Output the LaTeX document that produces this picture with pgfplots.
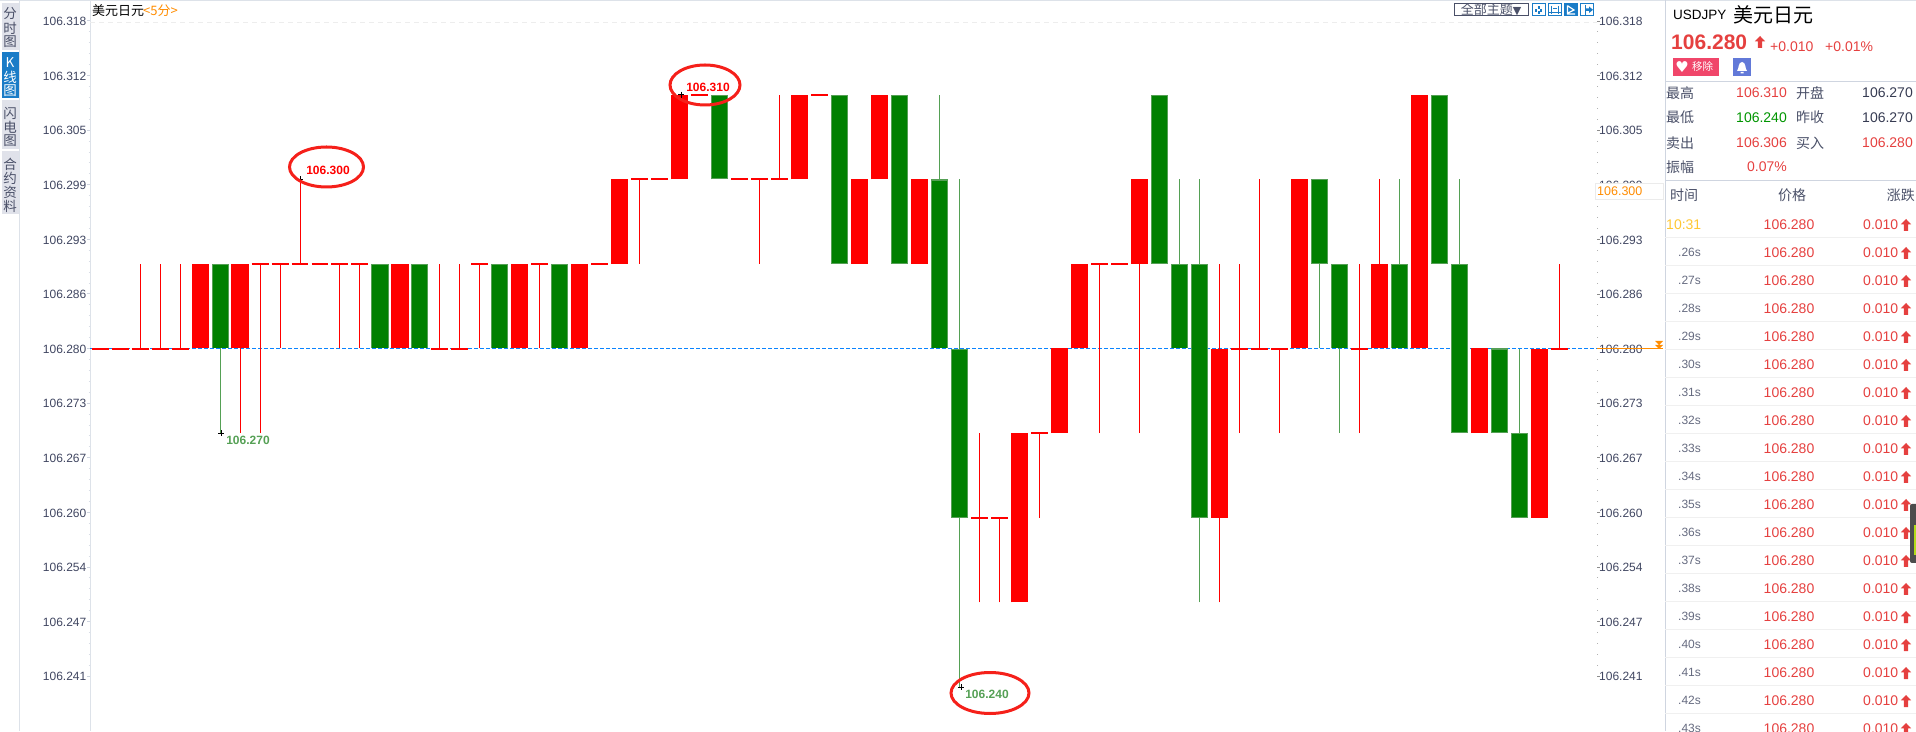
\documentclass[border=0pt]{standalone}
\usepackage{fontspec}
\usepackage{pgfplots}
\usepackage{pgfplotstable}
\pgfplotsset{compat=1.18}
\setmainfont{Liberation Sans}
\newfontfamily\cjk{Noto Sans CJK SC}
\newfontfamily\sym{DejaVu Sans}
\newcommand{\fs}[1]{\fontsize{#1}{#1}\selectfont}
\definecolor{kred}{HTML}{FF0000}
\definecolor{kgreen}{HTML}{008000}
\definecolor{kedge}{HTML}{55A055}
\definecolor{tickc}{HTML}{3F4560}
\definecolor{pred}{HTML}{E5403F}
\definecolor{lbl}{HTML}{4A5068}
\definecolor{ora}{HTML}{FF8C00}
\definecolor{sep}{HTML}{CFD5E0}
\definecolor{tabbg}{HTML}{E0E2EA}
\definecolor{kblue}{HTML}{1A7CC7}
\definecolor{dotblue}{HTML}{0A84FF}
\definecolor{ring}{HTML}{F5201A}
% candles: k = candle number, prices
\pgfplotstableread{
k lo hi
5 106.28 106.29
7 106.28 106.29
15 106.28 106.29
21 106.28 106.29
24 106.28 106.29
26 106.29 106.30
29 106.30 106.31
35 106.30 106.31
38 106.29 106.30
39 106.30 106.31
41 106.29 106.30
46 106.25 106.27
48 106.27 106.28
49 106.28 106.29
52 106.29 106.30
56 106.26 106.28
60 106.28 106.30
64 106.28 106.29
66 106.28 106.31
69 106.27 106.28
72 106.26 106.28
}\redbody
\pgfplotstableread{
k lo hi
6 106.28 106.29
14 106.28 106.29
16 106.28 106.29
20 106.28 106.29
23 106.28 106.29
31 106.30 106.31
37 106.29 106.31
40 106.29 106.31
42 106.28 106.30
43 106.26 106.28
53 106.29 106.31
54 106.28 106.29
55 106.26 106.29
61 106.29 106.30
62 106.28 106.29
65 106.28 106.29
67 106.29 106.31
68 106.27 106.29
70 106.27 106.28
71 106.26 106.27
}\greenbody
\pgfplotstableread{
k p
0 106.2799
1 106.2799
2 106.2799
3 106.2799
4 106.2799
8 106.29
9 106.29
10 106.29
11 106.29
12 106.29
13 106.29
17 106.2799
18 106.2799
19 106.29
22 106.29
25 106.29
27 106.30
28 106.30
30 106.31
32 106.30
33 106.30
34 106.30
36 106.31
44 106.26
45 106.26
47 106.27
50 106.29
51 106.29
57 106.2799
58 106.2799
59 106.2799
63 106.2799
73 106.2799
}\doji
\pgfplotstableread{
k lo hi
2 106.28 106.29
3 106.28 106.29
4 106.28 106.29
7 106.27 106.29
8 106.27 106.29
9 106.28 106.29
10 106.29 106.30
12 106.28 106.29
13 106.28 106.29
17 106.28 106.29
18 106.28 106.29
19 106.28 106.29
22 106.28 106.29
27 106.29 106.30
33 106.29 106.30
34 106.30 106.31
44 106.25 106.27
45 106.25 106.26
47 106.26 106.27
50 106.27 106.29
52 106.27 106.30
56 106.25 106.29
57 106.27 106.29
58 106.28 106.30
59 106.27 106.28
63 106.27 106.29
64 106.28 106.30
73 106.28 106.29
}\redwick
\pgfplotstableread{
k lo hi
6 106.27 106.29
42 106.28 106.31
43 106.24 106.30
54 106.28 106.30
55 106.25 106.30
61 106.28 106.30
62 106.27 106.29
65 106.28 106.30
68 106.27 106.30
71 106.26 106.28
}\greenwick
\begin{document}
\begin{tikzpicture}
\path[use as bounding box,clip] (0,0) rectangle (1916pt,731pt);
\begin{axis}[
  at={(90pt,0pt)},anchor=south west,scale only axis,width=1507pt,height=731pt,
  xmin=-0.5,xmax=74.85,ymin=106.234787,ymax=106.321194,
  axis x line=none,axis y line*=left,
  axis line style={draw=sep!70!white,line width=1pt},
  ytick={106.241276,106.24773,106.254184,106.260638,106.267092,106.273546,106.28,106.286454,106.292908,106.299362,106.305816,106.31227,106.318724},
  yticklabels={106.241,106.247,106.254,106.260,106.267,106.273,106.280,106.286,106.293,106.299,106.305,106.312,106.318},
  minor tick num=4,tick align=outside,major tick length=3pt,minor tick length=1.5pt,
  every major tick/.style={draw=sep,line width=0.8pt},
  every minor tick/.style={draw=sep!80!white,line width=0.8pt},
  yticklabel style={font=\fs{12},text=tickc,inner sep=0pt,xshift=-0.5pt,yshift=-0.7pt},
]
\addplot[draw=black!7,line width=1pt,dash pattern=on 5pt off 4pt] coordinates {(-0.5,106.31853)(74.85,106.31853)};
\addplot[dotblue,line width=1.1pt,dash pattern=on 4pt off 2pt] coordinates {(-0.5,106.28)(74.85,106.28)};
\addplot[kred,line width=1pt,no markers,quiver={u=0,v=\thisrow{hi}-\thisrow{lo}}] table[x=k,y=lo] {\redwick};
\addplot[kedge,line width=1pt,no markers,quiver={u=0,v=\thisrow{hi}-\thisrow{lo}}] table[x=k,y=lo] {\greenwick};
\addplot[kred,line width=17pt,no markers,quiver={u=0,v=\thisrow{hi}-\thisrow{lo}}] table[x=k,y=lo] {\redbody};
\addplot[kedge,line width=17pt,no markers,quiver={u=0,v=\thisrow{hi}-\thisrow{lo}}] table[x=k,y=lo] {\greenbody};
\addplot[kgreen,line width=15pt,no markers,quiver={u=0,v=\thisrow{hi}-\thisrow{lo}-0.00024}] table[x=k,y expr=\thisrow{lo}+0.00012] {\greenbody};
\addplot[kred,line width=2pt,no markers,quiver={u=0.85,v=0}] table[x expr=\thisrow{k}-0.425,y=p] {\doji};
\addplot[only marks,mark=+,mark size=3pt,black,mark options={line width=0.7pt}] coordinates {(10,106.30)(29.05,106.31)(6.05,106.27)(43.05,106.24)};
\end{axis}
\begin{axis}[
  at={(90pt,0pt)},anchor=south west,scale only axis,width=1507pt,height=731pt,
  xmin=-0.5,xmax=74.85,ymin=106.234787,ymax=106.321194,
  axis x line=none,axis y line*=right,
  axis line style={draw=none},
  ytick={106.241276,106.24773,106.254184,106.260638,106.267092,106.273546,106.28,106.286454,106.292908,106.299362,106.305816,106.31227,106.318724},
  yticklabels={106.241,106.247,106.254,106.260,106.267,106.273,106.280,106.286,106.293,106.299,106.305,106.312,106.318},
  minor tick num=4,tick align=outside,major tick length=3pt,minor tick length=1pt,
  every major tick/.style={draw=black!45,line width=0.7pt},
  every minor tick/.style={draw=black!30,line width=0.8pt},
  yticklabel style={font=\fs{12},text=tickc,inner sep=0pt,xshift=-1pt,yshift=-0.7pt},
]
\addplot[draw=none] coordinates {(0,106.28)};
\end{axis}
\begin{scope}[x=1pt,y=-1pt,shift={(0pt,731pt)}]
% frame lines
\draw[sep!70!white,line width=1.5pt] (0,0.5) -- (1916,0.5);
\draw[sep!70!white,line width=1pt] (19.5,0) -- (19.5,731);
\draw[sep,line width=1pt] (1665,0) -- (1665,731);
% title
\node[anchor=west,inner sep=0,font=\cjk\fs{13}] at (92,11) {美元日元};
\node[anchor=west,inner sep=0,text=ora,font=\cjk\fs{13}] at (143,11) {<5分>};
% left tabs
\fill[tabbg] (2,3) rectangle (19,50);
\fill[kblue] (2,52) rectangle (19,98);
\fill[tabbg] (2,100) rectangle (19,149);
\fill[tabbg] (2,151) rectangle (19,214);
\foreach \y/\c in {14/分,28/时,42/图,113/闪,127/电,141/图,164/合,178/约,192/资,206/料}
  \node[inner sep=0,text=lbl,font=\cjk\fs{13.5}] at (10,\y) {\c};
\foreach \y/\c in {63/K,77/线,91/图}
  \node[inner sep=0,text=white,font=\cjk\fs{13.5}] at (10,\y) {\c};
% toolbar
\draw[draw=lbl,line width=1pt,fill=white] (1454.5,3.5) rectangle (1528.5,16);
\node[inner sep=0,text=lbl,font=\cjk\fs{13}] at (1491,10) {全部主题{\sym\fs{11}▼}};
\foreach \a in {1532.5,1548.5,1580.5}
  \draw[kblue,line width=1pt] (\a,3.5) rectangle ++(13,12.5);
\fill[kblue] (1564,3) rectangle (1577.5,16.5);
\foreach \dx/\dy in {6.5/3,6.5/8,3/6,8/6}
  \fill[kblue] (1532.5+\dx-1,3.5+\dy-1+1) rectangle ++(2.2,2.2);
\draw[kblue,line width=1pt] (1551.5,6) -- (1551.5,14) (1558.5,6) -- (1558.5,14) (1549,13) -- (1561,13) (1557,9) -- (1553,9);
\draw[white,line width=1.2pt] (1567.5,5.5) -- (1567.5,14) -- (1575,14) (1568,6) -- (1574,10) -- (1568,13);
\draw[kblue,line width=1pt] (1585,5) -- (1585,15);
\fill[kblue] (1586,8.5) rectangle (1589,11) (1589,6.5) -- (1593,9.8) -- (1589,13) -- cycle;
% ellipses and extreme labels
\draw[ring,line width=3pt] (326.5,167) ellipse (37 and 20);
\draw[ring,line width=3pt] (705,85) ellipse (35 and 20);
\draw[ring,line width=3pt] (990,693) ellipse (39 and 20.5);
\node[inner sep=0,text=kred,font=\bfseries\fs{12}] at (328,170) {106.300};
\node[inner sep=0,text=kred,font=\bfseries\fs{12}] at (708,87) {106.310};
\node[inner sep=0,text=kedge,font=\bfseries\fs{12}] at (248,440) {106.270};
\node[inner sep=0,text=kedge,font=\bfseries\fs{12}] at (987,694) {106.240};
% current price marker
\draw[ora,line width=1.2pt] (1597,348.5) -- (1663,348.5);
\fill[ora] (1655,341) -- (1663,341) -- (1659,345) -- cycle (1655,345) -- (1663,345) -- (1659,349) -- cycle;
\draw[draw=black!8,fill=white,line width=0.8pt] (1595.5,183) rectangle (1663,199);
\node[anchor=west,inner sep=0,text=ora,font=\fs{12.5}] at (1597,191) {106.300};
% right panel head
\node[anchor=west,inner sep=0,font=\fs{13.5}] at (1673,15) {USDJPY};
\node[anchor=west,inner sep=0,font=\cjk\fs{20}] at (1733,15) {美元日元};
\node[anchor=west,inner sep=0,text=pred,font=\bfseries\fs{21}] at (1671,42.5) {106.280};
\newcommand{\uparr}[3]{\fill[#3,shift={(#1,#2)}] (0,-6) -- (5.2,-0.6) -- (2.2,-0.6) -- (2.2,6) -- (-2.2,6) -- (-2.2,-0.6) -- (-5.2,-0.6) -- cycle;}
\uparr{1760}{42}{pred}
\node[anchor=west,inner sep=0,text=pred,font=\fs{14}] at (1770,47) {+0.010};
\node[anchor=west,inner sep=0,text=pred,font=\fs{14}] at (1825,47) {+0.01\%};
\fill[color={rgb,255:red,240;green,70;blue,106}] (1673,58) rectangle (1719,76);
\node[inner sep=0,text=white,font=\sym\fs{15}] at (1682,67) {♥};
\node[anchor=west,inner sep=0,text=white,font=\cjk\fs{10.5}] at (1692,67) {移除};
\fill[color={rgb,255:red,98;green,121;blue,216}] (1733,58) rectangle (1751,76);
\fill[white] (1737,71) .. controls (1739,69) and (1738,62) .. (1742,62) .. controls (1746,62) and (1745,69) .. (1747,71) -- cycle (1740.5,72) rectangle (1743.5,73.5);
% stats
\draw[sep,line width=1pt] (1665,81.5) -- (1916,81.5);
\draw[sep,line width=1pt] (1665,180.5) -- (1916,180.5);
\foreach \y/\c in {93/最高,117.5/最低,143/卖出,167/振幅}
  \node[anchor=west,inner sep=0,text=lbl,font=\cjk\fs{14}] at (1666,\y) {\c};
\foreach \y/\c in {93/开盘,117.5/昨收,143/买入}
  \node[anchor=west,inner sep=0,text=lbl,font=\cjk\fs{14}] at (1796,\y) {\c};
\node[anchor=east,inner sep=0,text=pred,font=\fs{14}] at (1787,93) {106.310};
\node[anchor=east,inner sep=0,text=black!10!green!65!black,font=\fs{14}] at (1787,117.5) {106.240};
\node[anchor=east,inner sep=0,text=pred,font=\fs{14}] at (1787,143) {106.306};
\node[anchor=east,inner sep=0,text=pred,font=\fs{14}] at (1787,167) {0.07\%};
\node[anchor=east,inner sep=0,text=tickc!85!black,font=\fs{14}] at (1913,93) {106.270};
\node[anchor=east,inner sep=0,text=tickc!85!black,font=\fs{14}] at (1913,117.5) {106.270};
\node[anchor=east,inner sep=0,text=pred,font=\fs{14}] at (1913,143) {106.280};
% quote list
\node[anchor=west,inner sep=0,text=lbl,font=\cjk\fs{14}] at (1670,195) {时间};
\node[inner sep=0,text=lbl,font=\cjk\fs{14}] at (1792,195) {价格};
\node[anchor=east,inner sep=0,text=lbl,font=\cjk\fs{14}] at (1915,195) {涨跌};
\node[anchor=west,inner sep=0,text=orange!55!yellow!80!white,font=\fs{14}] at (1666,225) {10:31};
\foreach \y/\t in {253/.26s,281/.27s,309/.28s,337/.29s,365/.30s,393/.31s,421/.32s,449/.33s,477/.34s,505/.35s,533/.36s,561/.37s,589/.38s,617/.39s,645/.40s,673/.41s,701/.42s,729/.43s}{
  \node[anchor=west,inner sep=0,text=lbl!85!white,font=\fs{12}] at (1678,\y-1) {\t};
}
\foreach \y in {225,253,281,309,337,365,393,421,449,477,505,533,561,589,617,645,673,701,729}{
  \draw[black!6,line width=0.8pt] (1665,\y+12) -- (1916,\y+12);
  \node[inner sep=0,text=pred,font=\fs{14}] at (1789,\y) {106.280};
  \node[anchor=west,inner sep=0,text=pred,font=\fs{14}] at (1863,\y) {0.010};
  \uparr{1906}{\y}{pred}
}
% scrollbar overlay
\fill[black!70,rounded corners=2pt] (1910,504) rectangle (1918,563);
\fill[yellow!70!green] (1914,525) rectangle (1916,555);
\end{scope}
\end{tikzpicture}
\end{document}
